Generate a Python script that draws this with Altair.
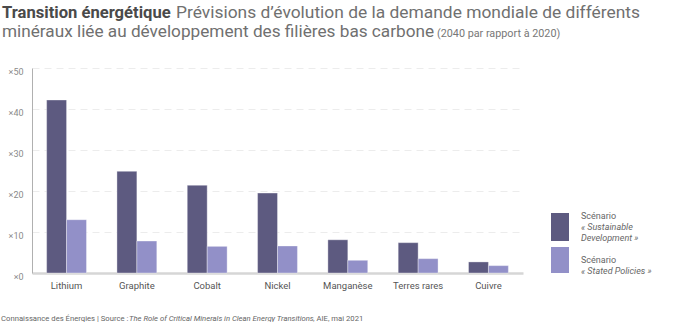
import altair as alt
import pandas as pd

minerals = ["Lithium", "Graphite", "Cobalt", "Nickel", "Manganèse", "Terres rares", "Cuivre"]
sd_values = [42.2, 24.8, 21.4, 19.5, 8.1, 7.4, 2.7]
sp_values = [13.0, 7.8, 6.5, 6.6, 3.1, 3.5, 1.8]
scenarios = ["Sustainable Development", "Stated Policies"]
colors = ["#5d5a80", "#9290c8"]
y_ticks = [0, 10, 20, 30, 40, 50]

title_bold = ["Transition énergétique"]
title_line1 = ["Prévisions d’évolution de la demande mondiale de différents"]
title_line2 = ["minéraux liée au développement des filières bas carbone"]
title_small = ["(2040 par rapport à 2020)"]
footer_a = ["Connaissance des Énergies | Source :"]
footer_b = ["The Role of Critical Minerals in Clean Energy Transitions"]
footer_c = [", AIE, mai 2021"]
legend_head = ["Scénario"]
legend_sd = ["« Sustainable", "Development »"]
legend_sp = ["« Stated Policies »"]

rows = []
for m, a, b in zip(minerals, sd_values, sp_values):
    rows.append({"mineral": m, "scenario": scenarios[0], "value": a})
    rows.append({"mineral": m, "scenario": scenarios[1], "value": b})
df = pd.DataFrame(rows)

FONT = "Roboto"
W, H = 491, 205

bars = alt.Chart(df).mark_bar(stroke="#ffffff", strokeOpacity=0.35, strokeWidth=1).encode(
    x=alt.X("mineral:N", sort=minerals,
            scale=alt.Scale(paddingInner=0.433, paddingOuter=0.208),
            axis=alt.Axis(title=None, labelAngle=0, labelFont=FONT, labelFontSize=9.5,
                          labelColor="#555555", labelPadding=7, ticks=False,
                          domainColor="#d6d6d6", domainWidth=2.5)),
    xOffset=alt.XOffset("scenario:N", sort=scenarios, scale=alt.Scale(paddingInner=0)),
    y=alt.Y("value:Q", scale=alt.Scale(domain=[0, 50], nice=False),
            axis=alt.Axis(title=None, values=y_ticks, labelExpr="'×' + datum.value",
                          labelFont=FONT, labelFontSize=9, labelColor="#8a8a8a",
                          labelPadding=9, labelOffset=3, ticks=False,
                          domainColor="#b0b0b0", domainWidth=1,
                          grid=True, gridColor="#ececec", gridDash=[7, 5], gridWidth=1)),
    color=alt.Color("scenario:N", sort=scenarios,
                    scale=alt.Scale(domain=scenarios, range=colors), legend=None),
)


def txt(values, x, y, size, color, weight="normal", style="normal", align="left", baseline="alphabetic"):
    return alt.Chart(pd.DataFrame({"t": values})).mark_text(
        font=FONT, fontSize=size, color=color, fontWeight=weight, fontStyle=style,
        align=align, baseline=baseline,
    ).encode(text="t:N", x=alt.value(x), y=alt.value(y))


ox, oy = 32, 68  # plot origin in page pixels

title_layers = [
    txt(title_bold, 2 - ox, 18 - oy, 16.6, "#4a4a4a", weight="bold"),
    txt(title_line1, 176 - ox, 18 - oy, 17.4, "#707070"),
    txt(title_line2, 2 - ox, 37 - oy, 17.2, "#707070"),
    txt(title_small, 437 - ox, 37 - oy, 10.8, "#777777"),
    txt(footer_a, 1 - ox, 321 - oy, 7.7, "#666666"),
    txt(footer_b, 129 - ox, 321 - oy, 7.7, "#666666", style="italic"),
    txt(footer_c, 313 - ox, 321 - oy, 7.7, "#666666"),
]

legend_rects = []
for (y1, y2), c in zip([(213, 241), (247, 273)], colors):
    legend_rects.append(
        alt.Chart(pd.DataFrame({"c": [c]})).mark_rect(color=c).encode(
            x=alt.value(551 - ox), x2=alt.value(569 - ox),
            y=alt.value(y1 - oy), y2=alt.value(y2 - oy))
    )

legend_texts = [
    txt(legend_head, 581 - ox, 216 - oy, 9, "#666666", baseline="middle"),
    txt([legend_sd[0]], 581 - ox, 227 - oy, 9, "#666666", style="italic", baseline="middle"),
    txt([legend_sd[1]], 581 - ox, 238 - oy, 9, "#666666", style="italic", baseline="middle"),
    txt(legend_head, 581 - ox, 259.5 - oy, 9, "#666666", baseline="middle"),
    txt(legend_sp, 581 - ox, 271 - oy, 9, "#666666", style="italic", baseline="middle"),
]

chart = alt.layer(bars, *title_layers, *legend_rects, *legend_texts).properties(
    width=W, height=H,
    autosize=alt.AutoSizeParams(type="none"),
    padding={"left": ox, "top": oy, "right": 700 - ox - W, "bottom": 322 - oy - H},
    background="#ffffff",
).configure_view(stroke=None)

chart.save("out.html", embed_options={"renderer": "svg", "actions": False})
